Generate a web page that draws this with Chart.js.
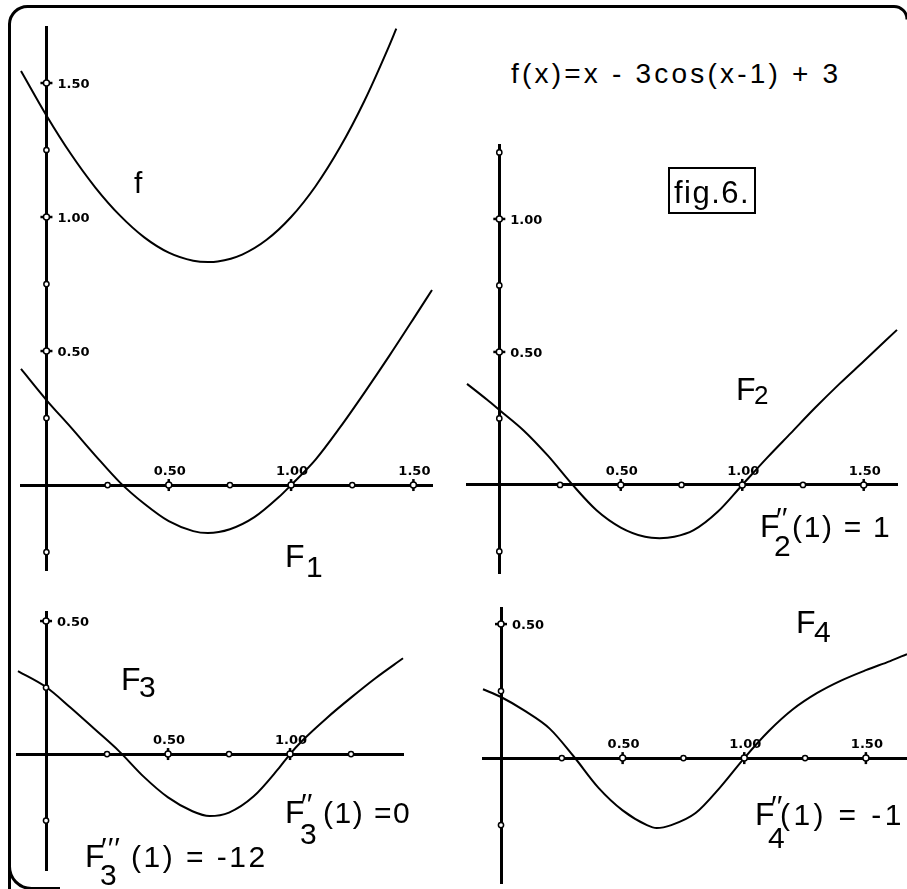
<!DOCTYPE html>
<html>
<head>
<meta charset="utf-8">
<script src="https://cdn.jsdelivr.net/npm/chart.js@4.4.1/dist/chart.umd.min.js"></script>
<style>
  html, body { margin: 0; padding: 0; background: #fff; overflow: hidden; }
  #sheet { position: relative; width: 907px; height: 889px; overflow: hidden; background: #fff; }
  #frame { position: absolute; left: 0; top: 0; }
  #figbox { position: absolute; left: 668px; top: 167px; width: 84px; height: 43px; border: 2px solid #000; }
  canvas { position: absolute; }
  .lbl { position: absolute; font-family: "Liberation Sans", Arial, sans-serif; color: #000;
         white-space: nowrap; line-height: 1; }
</style>
</head>
<body>
<div id="sheet">
  <svg id="frame" width="907" height="889">
    <path d="M 9.5 900 L 9.5 24 A 18 18 0 0 1 27.5 6.5 L 894 6.5 A 13 13 0 0 1 907 19.5"
          fill="none" stroke="#000" stroke-width="3"/>
    <path d="M 9.5 866 A 22 22 0 0 0 31.5 888.5 L 60 888.5"
          fill="none" stroke="#000" stroke-width="3"/>
  </svg>
  <div id="figbox"></div>
</div>
<script>
// f(x) and F1 (top left panel)
var fX  = [-0.104, 0, 0.1, 0.2, 0.3, 0.4, 0.5, 0.6, 0.66, 0.7, 0.8, 0.9, 1.0, 1.1, 1.2, 1.3, 1.4, 1.43];
var fY  = [1.545, 1.379, 1.235, 1.110, 1.006, 0.924, 0.867, 0.837, 0.832, 0.834, 0.860, 0.915, 1.0, 1.115, 1.260, 1.434, 1.637, 1.703];
var f1X = [-0.104, 0, 0.1, 0.2, 0.3, 0.4, 0.5, 0.6, 0.66, 0.75, 0.85, 0.95, 1.0, 1.1, 1.2, 1.3, 1.4, 1.5, 1.576];
var f1Y = [0.433, 0.317, 0.215, 0.11, 0.01, -0.07, -0.135, -0.172, -0.179, -0.165, -0.12, -0.045, 0, 0.095, 0.215, 0.345, 0.48, 0.62, 0.728];

// F2 (top right panel)
var f2X = [-0.133, -0.05, 0, 0.1, 0.2, 0.3, 0.4, 0.5, 0.6, 0.66, 0.72, 0.8, 0.9, 1.0, 1.1, 1.2, 1.3, 1.4, 1.5, 1.637];
var f2Y = [0.38, 0.32, 0.282, 0.205, 0.11, 0.002, -0.095, -0.16, -0.195, -0.2, -0.195, -0.17, -0.1, 0, 0.1, 0.195, 0.29, 0.38, 0.465, 0.583];

// F3 (bottom left panel)
var f3X = [-0.115, 0, 0.1, 0.2, 0.3, 0.4, 0.5, 0.6, 0.67, 0.75, 0.85, 0.95, 1.0, 1.05, 1.15, 1.25, 1.35, 1.463];
var f3Y = [0.312, 0.252, 0.175, 0.093, 0.01, -0.085, -0.163, -0.215, -0.233, -0.22, -0.16, -0.058, 0, 0.05, 0.135, 0.212, 0.285, 0.36];

// F4 (bottom right panel)
var f4X = [-0.074, 0, 0.1, 0.2, 0.3, 0.4, 0.5, 0.6, 0.64, 0.7, 0.8, 0.9, 1.0, 1.1, 1.2, 1.3, 1.4, 1.5, 1.6, 1.669];
var f4Y = [0.257, 0.228, 0.175, 0.11, 0.005, -0.11, -0.195, -0.25, -0.261, -0.25, -0.205, -0.11, 0, 0.1, 0.182, 0.243, 0.29, 0.328, 0.362, 0.388];

// tick positions and the labels printed on them
var topLeftXTicks  = [0.25, 0.5, 0.75, 1.0, 1.25, 1.5];
var topLeftYTicks  = [-0.25, 0.25, 0.5, 0.75, 1.0, 1.25, 1.5];
var topLeftXLabels = ['0.50', '1.00', '1.50'];
var topLeftYLabels = ['0.50', '1.00', '1.50'];

var topRightXTicks  = [0.25, 0.5, 0.75, 1.0, 1.25, 1.5];
var topRightYTicks  = [-0.25, 0.25, 0.5, 0.75, 1.0, 1.25];
var topRightXLabels = ['0.50', '1.00', '1.50'];
var topRightYLabels = ['0.50', '1.00'];

var botLeftXTicks  = [0.25, 0.5, 0.75, 1.0, 1.25];
var botLeftYTicks  = [-0.25, 0.25, 0.5];
var botLeftXLabels = ['0.50', '1.00'];
var botLeftYLabels = ['0.50'];

var botRightXTicks  = [0.25, 0.5, 0.75, 1.0, 1.25, 1.5];
var botRightYTicks  = [-0.25, 0.25, 0.5];
var botRightXLabels = ['0.50', '1.00', '1.50'];
var botRightYLabels = ['0.50'];

var PAD = 12;
var sheet = document.getElementById('sheet');

// small circles on the axes, crossed ones where a value is printed
var axisMarks = {
  id: 'axisMarks',
  afterDraw: function(chart, args, opts) {
    var ctx = chart.ctx;
    var xs = chart.scales.x, ys = chart.scales.y;
    var x0 = xs.getPixelForValue(0), y0 = ys.getPixelForValue(0);
    ctx.save();
    ctx.strokeStyle = '#000';
    ctx.fillStyle = '#000';
    ctx.font = 'bold 13px "DejaVu Sans", sans-serif';

    function mark(px, py, horiz, labelled) {
      if (labelled) {
        ctx.lineWidth = 2.5;
        ctx.beginPath();
        if (horiz) { ctx.moveTo(px, py - 6); ctx.lineTo(px, py + 6); }
        else { ctx.moveTo(px - 6, py); ctx.lineTo(px + 6, py); }
        ctx.stroke();
      }
      ctx.lineWidth = 1.5;
      ctx.beginPath();
      ctx.arc(px, py, labelled ? 3 : 2.6, 0, Math.PI * 2);
      ctx.fillStyle = '#fff';
      ctx.fill();
      ctx.stroke();
      ctx.fillStyle = '#000';
    }

    xs.ticks.forEach(function(t) {
      var px = xs.getPixelForValue(t.value);
      var lab = opts.xLabels.filter(function(l) { return parseFloat(l) === t.value; })[0];
      mark(px, y0, true, !!lab);
      if (lab) {
        ctx.textAlign = 'center';
        ctx.textBaseline = 'alphabetic';
        ctx.fillText(lab, px + 1, y0 - 10);
      }
    });
    ys.ticks.forEach(function(t) {
      var py = ys.getPixelForValue(t.value);
      var lab = opts.yLabels.filter(function(l) { return parseFloat(l) === t.value; })[0];
      mark(x0, py, false, !!lab);
      if (lab) {
        ctx.textAlign = 'left';
        ctx.textBaseline = 'middle';
        ctx.fillText(lab, x0 + 11, py + 2);
      }
    });
    ctx.restore();
  }
};

function makePanel(area, xMin, xMax, yMin, yMax, xTicks, yTicks, xLabels, yLabels, curves) {
  var cv = document.createElement('canvas');
  // keep the last panel's canvas inside the sheet
  var w = Math.min(area.w + PAD * 2, 907 - (area.left - PAD));
  cv.width = w;
  cv.height = area.h + PAD * 2;
  cv.style.left = (area.left - PAD) + 'px';
  cv.style.top = (area.top - PAD) + 'px';
  sheet.appendChild(cv);

  var datasets = curves.map(function(c) {
    return {
      data: c[0].map(function(v, i) { return {x: v, y: c[1][i]}; }),
      showLine: true,
      borderColor: '#000',
      borderWidth: 2,
      pointRadius: 0,
      cubicInterpolationMode: 'monotone',
      fill: false,
      clip: false
    };
  });

  var padRight = w - area.w - PAD;

  return new Chart(cv, {
    type: 'scatter',
    data: {datasets: datasets},
    options: {
      responsive: false,
      animation: false,
      events: [],
      layout: {padding: {left: PAD, top: PAD, bottom: PAD, right: padRight}},
      plugins: {
        legend: {display: false},
        tooltip: {enabled: false},
        axisMarks: {xLabels: xLabels, yLabels: yLabels}
      },
      scales: {
        x: {
          type: 'linear', min: xMin, max: xMax, position: {y: 0},
          grid: {display: false},
          border: {display: true, color: '#000', width: 3},
          ticks: {display: false},
          afterBuildTicks: function(s) { s.ticks = xTicks.map(function(v) { return {value: v}; }); }
        },
        y: {
          type: 'linear', min: yMin, max: yMax, position: {x: 0},
          grid: {display: false},
          border: {display: true, color: '#000', width: 3},
          ticks: {display: false},
          afterBuildTicks: function(s) { s.ticks = yTicks.map(function(v) { return {value: v}; }); }
        }
      }
    },
    plugins: [axisMarks]
  });
}

makePanel({left: 21, top: 27, w: 411, h: 543}, -0.104, 1.576, -0.317, 1.709,
  topLeftXTicks, topLeftYTicks, topLeftXLabels, topLeftYLabels, [[fX, fY], [f1X, f1Y]]);
makePanel({left: 467, top: 145, w: 430, h: 428}, -0.133, 1.637, -0.331, 1.278,
  topRightXTicks, topRightYTicks, topRightXLabels, topRightYLabels, [[f2X, f2Y]]);
makePanel({left: 17, top: 612, w: 386, h: 258}, -0.119, 1.463, -0.436, 0.534,
  botLeftXTicks, botLeftYTicks, botLeftXLabels, botLeftYLabels, [[f3X, f3Y]]);
makePanel({left: 483, top: 608, w: 424, h: 275}, -0.074, 1.669, -0.466, 0.56,
  botRightXTicks, botRightYTicks, botRightXLabels, botRightYLabels, [[f4X, f4Y]]);

// text: left edge, baseline, size, letter spacing
function addText(text, x, baseline, size, spacing) {
  var d = document.createElement('div');
  d.className = 'lbl';
  d.textContent = text;
  d.style.left = x + 'px';
  d.style.top = (baseline - size * 0.85) + 'px';
  d.style.fontSize = size + 'px';
  if (spacing) d.style.letterSpacing = spacing + 'px';
  sheet.appendChild(d);
}

addText('f(x)=x - 3cos(x-1) + 3', 511, 84, 28, 3.2);
addText('fig.6.', 674, 203, 31, 1.5);

addText('f', 134, 193, 30);
addText('F', 285, 567, 32); addText('1', 306, 577, 30);
addText('F', 736, 400, 32); addText('2', 754, 404, 26);
addText('F', 121, 690, 32); addText('3', 139, 697, 30);
addText('F', 796, 633, 32); addText('4', 814, 642, 30);

addText('F', 760, 537, 32); addText('\u2032\u2032', 776, 528, 30, 0); addText('2', 774, 556, 30);
addText('(1) = 1', 792, 537, 30, 1.7);

addText('F', 285, 823, 32); addText('\u2032\u2032', 301, 814, 30, 0); addText('3', 300, 844, 30);
addText('(1) =0', 323, 823, 30, 1.5);

addText('F', 85, 867, 32); addText('\u2032\u2032\u2032', 101, 858, 30, 1); addText('3', 100, 885, 30);
addText('(1) = -12', 131, 867, 30, 2.5);

addText('F', 755, 825, 32); addText('\u2032\u2032', 771, 816, 30, 0); addText('4', 768, 848, 30);
addText('(1) = -1', 780, 825, 30, 3.4);
</script>
</body>
</html>
